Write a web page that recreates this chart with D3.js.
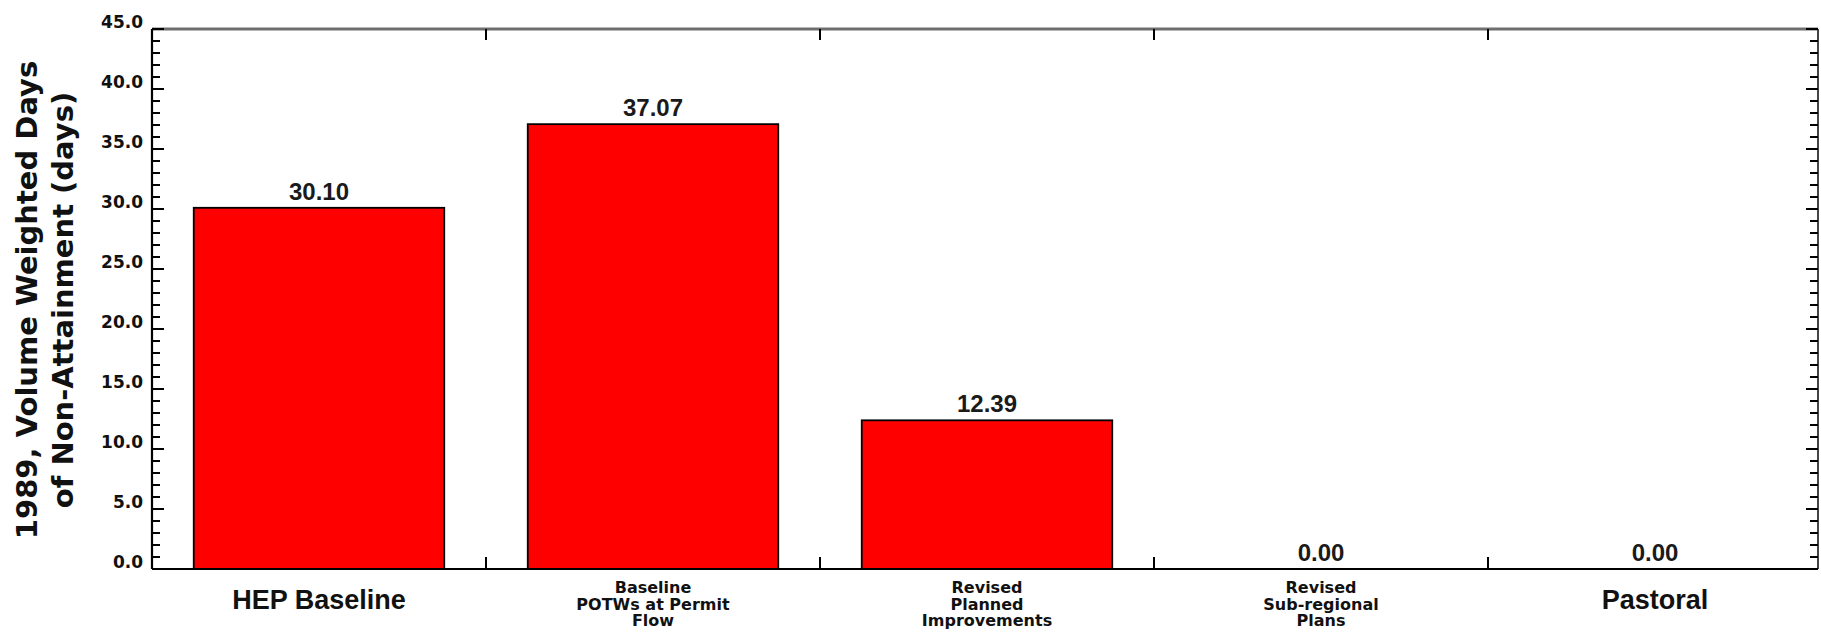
<!DOCTYPE html>
<html>
<head>
<meta charset="utf-8">
<script src="https://cdn.jsdelivr.net/npm/d3@7"></script>
<style>
  html, body { margin: 0; padding: 0; background: #fff; }
  svg { display: block; }
</style>
</head>
<body>
<svg id="chart" width="1821" height="633"></svg>
<script>
// ---- data ----
const categories = [
  "HEP Baseline",
  "Baseline\nPOTWs at Permit\nFlow",
  "Revised\nPlanned\nImprovements",
  "Revised\nSub-regional\nPlans",
  "Pastoral"
];
const values = [30.10, 37.07, 12.39, 0.00, 0.00];
const yMajorTicks = [0, 5, 10, 15, 20, 25, 30, 35, 40, 45];
const yTitleLines = ["1989, Volume Weighted Days", "of Non-Attainment (days)"];

(function () {
// ---- layout ----
const plotLeft = 152, rightBand = 1822, rightAxis = 1818;
const plotTop = 29, plotBottom = 569;

const svg = d3.select("#chart");

const x = d3.scaleBand()
  .domain(categories)
  .range([plotLeft, rightBand])
  .paddingInner(0.25)
  .paddingOuter(0.125);

const y = d3.scaleLinear().domain([0, 45]).range([plotBottom, plotTop]);

// bars
svg.append("g").selectAll("rect")
  .data(values)
  .join("rect")
  .attr("x", (d, i) => x(categories[i]))
  .attr("y", d => y(d))
  .attr("width", x.bandwidth())
  .attr("height", d => y(0) - y(d))
  .attr("fill", "#ff0000")
  .attr("stroke", "#000")
  .attr("stroke-width", 1.8);

// value labels
svg.append("g").selectAll("text")
  .data(values)
  .join("text")
  .attr("x", (d, i) => x(categories[i]) + x.bandwidth() / 2)
  .attr("y", d => y(d) - 8)
  .attr("text-anchor", "middle")
  .attr("font-family", "Liberation Sans, Arial, sans-serif")
  .attr("font-weight", "bold")
  .attr("font-size", 24)
  .attr("fill", "#1a1a1a")
  .text(d => d3.format(".2f")(d));

// frame
const frame = svg.append("g");
frame.append("line").attr("x1", plotLeft).attr("x2", rightAxis).attr("y1", plotTop).attr("y2", plotTop)
  .attr("stroke", "#6e6e6e").attr("stroke-width", 3);
frame.append("line").attr("x1", plotLeft).attr("x2", rightAxis).attr("y1", plotBottom).attr("y2", plotBottom)
  .attr("stroke", "#000").attr("stroke-width", 2.2);
frame.append("line").attr("x1", plotLeft).attr("x2", plotLeft).attr("y1", plotTop).attr("y2", plotBottom)
  .attr("stroke", "#000").attr("stroke-width", 2.2);
frame.append("line").attr("x1", rightAxis).attr("x2", rightAxis).attr("y1", plotTop).attr("y2", plotBottom)
  .attr("stroke", "#444").attr("stroke-width", 2);

// y ticks (minor every 1, major every 5) on left and right, pointing inward
const minor = d3.range(0, 46, 1);
const tickG = svg.append("g").attr("stroke", "#000").attr("stroke-width", 2);
minor.forEach(v => {
  const len = (v % 5 === 0) ? 12 : 8;
  tickG.append("line").attr("x1", plotLeft).attr("x2", plotLeft + len)
    .attr("y1", y(v)).attr("y2", y(v));
  tickG.append("line").attr("x1", rightAxis).attr("x2", rightAxis - len)
    .attr("y1", y(v)).attr("y2", y(v));
});

// y tick labels
svg.append("g").selectAll("text")
  .data(yMajorTicks)
  .join("text")
  .attr("x", 143)
  .attr("y", d => y(d) - 1)
  .attr("text-anchor", "end")
  .attr("font-family", "DejaVu Sans, Verdana, sans-serif")
  .attr("font-weight", "bold")
  .attr("font-size", 17)
  .attr("fill", "#111")
  .text(d => d3.format(".1f")(d));

// x ticks at band boundaries (top pointing down, bottom pointing up)
const xt = svg.append("g").attr("stroke", "#000").attr("stroke-width", 2);
d3.range(1, categories.length).forEach(i => {
  const bx = x.range()[0] + i * x.step();
  xt.append("line").attr("x1", bx).attr("x2", bx).attr("y1", plotTop).attr("y2", plotTop + 11);
  xt.append("line").attr("x1", bx).attr("x2", bx).attr("y1", plotBottom).attr("y2", plotBottom - 12);
});

// category labels
const catG = svg.append("g")
  .attr("font-weight", "bold")
  .attr("fill", "#111")
  .attr("text-anchor", "middle");
categories.forEach(c => {
  const lines = c.split("\n");
  const cx = x(c) + x.bandwidth() / 2;
  if (lines.length === 1) {
    catG.append("text").attr("x", cx).attr("y", 609)
      .attr("font-family", "Liberation Sans, Arial, sans-serif")
      .attr("font-size", 27).text(lines[0]);
  } else {
    lines.forEach((ln, k) => {
      catG.append("text").attr("x", cx).attr("y", 593 + k * 16.5)
        .attr("font-family", "DejaVu Sans, Verdana, sans-serif")
        .attr("font-size", 16).text(ln);
    });
  }
});

// y title
const yTitleBase = [37, 73];
yTitleLines.forEach((t, k) => {
  svg.append("text")
    .attr("transform", `translate(${yTitleBase[k]},300) rotate(-90)`)
    .attr("text-anchor", "middle")
    .attr("font-family", "DejaVu Sans, Verdana, sans-serif")
    .attr("font-weight", "bold")
    .attr("font-size", 29)
    .attr("fill", "#111")
    .text(t);
});
})();
</script>
</body>
</html>
